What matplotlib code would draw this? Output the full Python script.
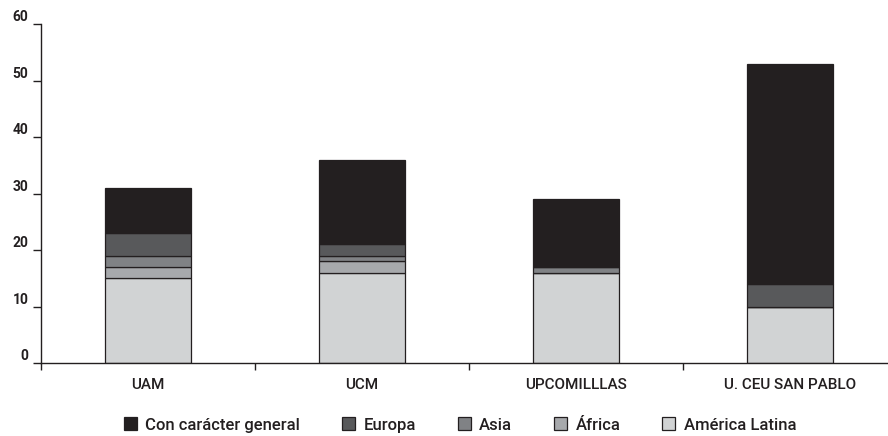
import numpy as np
import matplotlib.pyplot as plt
from matplotlib.patches import Patch

universidades = ['UAM', 'UCM', 'UPCOMILLLAS', 'U. CEU SAN PABLO']
series = ['América Latina', 'África', 'Asia', 'Europa', 'Con carácter general']
america_latina = [15, 16, 16, 10]
africa = [2, 2, 0, 0]
asia = [2, 1, 1, 0]
europa = [4, 2, 0, 4]
general = [8, 15, 12, 39]
colores = ['#d1d3d4', '#a7a9ac', '#808285', '#58595b', '#231f20']

plt.rcParams['font.family'] = ['Roboto', 'DejaVu Sans']

fig = plt.figure(figsize=(8.88, 4.36), dpi=100)
ax = fig.add_axes([41 / 888, 73 / 436, 847 / 888, (363 - 24) / 436])

x = np.arange(len(universidades))
base = np.zeros(len(universidades))
for nombre, valores, col in zip(series, [america_latina, africa, asia, europa, general], colores):
    ax.bar(x, valores, width=0.40, bottom=base, color=col, edgecolor='#231f20',
           linewidth=0.9, label=nombre)
    base += np.array(valores)

ax.set_xlim(-0.5, -0.5 + 847 / 214)
ax.set_ylim(0, 60)
ax.set_yticks(range(0, 61, 10))
ax.set_xticks(x)
ax.set_xticklabels(universidades, fontsize=11, fontweight='medium', color='#231f20')
ax.set_xticks([-0.5, 0.5, 1.5, 2.5], minor=True)
ax.tick_params(axis='x', which='major', length=0, pad=11)
ax.tick_params(axis='x', which='minor', length=5, width=1, color='#231f20', direction='out')
ax.tick_params(axis='y', length=6, width=1, color='#231f20', pad=3, labelsize=10,
               labelcolor='#231f20')
for lab in ax.get_yticklabels():
    lab.set_va('bottom')
    lab.set_fontweight('bold')

for s in ['top', 'right']:
    ax.spines[s].set_visible(False)
for s in ['left', 'bottom']:
    ax.spines[s].set_color('#231f20')
    ax.spines[s].set_linewidth(1)

handles = [Patch(facecolor=c, edgecolor='#231f20', linewidth=0.9, label=n)
           for n, c in zip(series[::-1], colores[::-1])]
fig.legend(handles=handles, loc='center', bbox_to_anchor=(460 / 888, 1 - 425 / 436),
           ncol=5, frameon=False, handlelength=0.8, handleheight=0.8,
           handletextpad=0.5, columnspacing=2.5, prop={'size': 12, 'weight': 'medium'},
           labelcolor='#231f20')

fig.savefig('out.png', dpi=100)
